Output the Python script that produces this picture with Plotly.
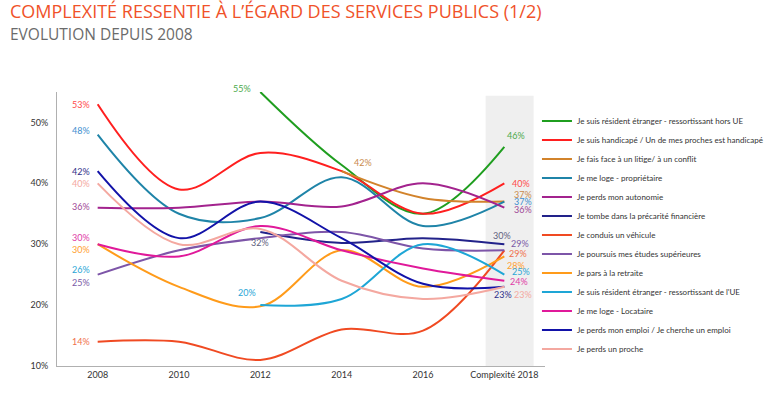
import plotly.graph_objects as go

years = ["2008", "2010", "2012", "2014", "2016", "Complexité 2018"]

series_names = [
    "Je suis résident étranger - ressortissant hors UE",
    "Je suis handicapé / Un de mes proches est handicapé",
    "Je fais face à un litige/ à un conflit",
    "Je me loge - propriétaire",
    "Je perds mon autonomie",
    "Je tombe dans la précarité financière",
    "Je conduis un véhicule",
    "Je poursuis mes études supérieures",
    "Je pars à la retraite",
    "Je suis résident étranger - ressortissant de l'UE",
    "Je me loge - Locataire",
    "Je perds mon emploi / Je cherche un emploi",
    "Je perds un proche",
]

hors_ue = [None, None, 55, 43, 35, 46]
handicape = [53, 39, 45, 42, 35, 40]
litige = [None, None, None, 42, 37.6, 37]
proprietaire = [48, 35, 34.3, 41, 33, 37]
autonomie = [36, 36, 37, 36.2, 40, 36]
precarite = [None, None, 32, 30.2, 31, 30]
vehicule = [14, 14, 11, 16, 15.8, 29]
etudes = [25, 29, 31, 32, 29.3, 29]
retraite = [30, 23, 19.8, 29, 23, 28]
ue = [26, None, 20, 21, 30, 25]
locataire = [30, 28, 33, 29, 26, 24]
emploi = [42, 31, 37, 31, 23.5, 23]
proche = [40, 30, 32.5, 24, 21, 23]

y_ticks = [10, 20, 30, 40, 50]
y_tick_labels = ["10%", "20%", "30%", "40%", "50%"]

values = [hors_ue, handicape, litige, proprietaire, autonomie, precarite,
          vehicule, etudes, retraite, ue, locataire, emploi, proche]

line_colors = ["#1f9e1f", "#ff1f1f", "#d2832b", "#1f84a8", "#a3238e", "#22228a",
               "#f04a22", "#7d55a8", "#ff9b1a", "#1ea6d6", "#e0199a", "#1212a8", "#f4a8a0"]
label_colors = ["#4caa4c", "#ff4a4a", "#c98a4c", "#3f8fd0", "#a04896", "#5f5f80",
                "#f0704a", "#7a5aa6", "#ffa030", "#2aa6d6", "#e03aa6", "#30308a", "#f4a8a0"]

# label placement styles: (series index, point index, xanchor, xshift, yshift)
label_style = [
    (0, 2, "right", -7, 4), (0, 5, "left", 1, 11),
    (1, 0, "right", -6, 0), (1, 5, "left", 6, 0),
    (2, 3, "left", 10, 9), (2, 5, "left", 8, 7),
    (3, 0, "right", -6, 4), (3, 5, "left", 8, 0),
    (4, 0, "right", -6, 1), (4, 5, "left", 8, -2),
    (5, 2, "center", 0, -10), (5, 5, "center", -2, 9),
    (6, 0, "right", -6, 0), (6, 5, "left", 3, -3),
    (7, 0, "right", -6, -8), (7, 5, "left", 5, 7),
    (8, 0, "right", -6, -5), (8, 5, "left", 1, -9),
    (9, 0, "right", -6, -1), (9, 2, "center", -13, 13), (9, 5, "left", 6, 3),
    (10, 0, "right", -6, 7), (10, 5, "left", 4, -1),
    (11, 0, "right", -6, 0), (11, 5, "center", -1, -8),
    (12, 0, "right", -6, 0), (12, 5, "center", 19, -8),
]

fig = go.Figure()

fig.add_shape(type="rect", xref="x", yref="y", x0=4.77, x1=5.36, y0=10, y1=54.4,
              fillcolor="#efefef", line_width=0, layer="below")

for i, (name, vals) in enumerate(zip(series_names, values)):
    fig.add_trace(go.Scatter(
        x=years, y=vals, name=name, mode="lines",
        line=dict(color=line_colors[i], width=2, shape="spline", smoothing=1.0),
        connectgaps=False, hoverinfo="skip",
    ))

font_family = "Lato, 'Open Sans', sans-serif"
annotations = []
for si, pi, xa, xs, ys in label_style:
    v = values[si][pi]
    annotations.append(dict(x=pi, y=v, xref="x", yref="y", text=f"{round(v)}%",
                            showarrow=False, xanchor=xa, yanchor="middle", xshift=xs, yshift=ys,
                            font=dict(family=font_family, size=9, color=label_colors[si])))

annotations.append(dict(x=-0.1004, y=1.2974, xref="paper", yref="paper",
                        text="COMPLEXITÉ RESSENTIE À L’ÉGARD DES SERVICES PUBLICS (1/2)",
                        showarrow=False, xanchor="left", yanchor="middle",
                        font=dict(family="'Open Sans', sans-serif", size=18, color="#f0522a")))
annotations.append(dict(x=-0.1004, y=1.2117, xref="paper", yref="paper",
                        text="EVOLUTION DEPUIS 2008",
                        showarrow=False, xanchor="left", yanchor="middle",
                        font=dict(family="'Open Sans', sans-serif", size=15.5, color="#6b6b6b")))

fig.update_layout(
    width=766, height=395,
    margin=dict(l=57, r=221, t=92, b=29, autoexpand=False),
    paper_bgcolor="white", plot_bgcolor="white",
    showlegend=True,
    legend=dict(xref="container", yref="container", x=0.701, xanchor="left",
                y=0.7304, yanchor="top", maxheight=1,
                font=dict(family=font_family, size=8, color="#333333"),
                tracegroupgap=0, itemwidth=30, bgcolor="rgba(0,0,0,0)"),
    annotations=annotations,
    xaxis=dict(type="category", range=[-0.5, 5.5], showline=True, linecolor="#b0b0b0",
               linewidth=1, showgrid=False, ticks="", zeroline=False, automargin=False,
               tickfont=dict(family=font_family, size=9, color="#333333")),
    yaxis=dict(range=[10, 55], tickmode="array", tickvals=y_ticks, ticktext=y_tick_labels,
               showline=True, linecolor="#b0b0b0", linewidth=1, showgrid=False,
               ticks="", zeroline=False, ticklabelstandoff=6, automargin=False,
               tickfont=dict(family=font_family, size=9, color="#333333")),
)

fig.write_html("out.html", config={"displayModeBar": False},
               post_script="document.body.style.margin='0px';")
